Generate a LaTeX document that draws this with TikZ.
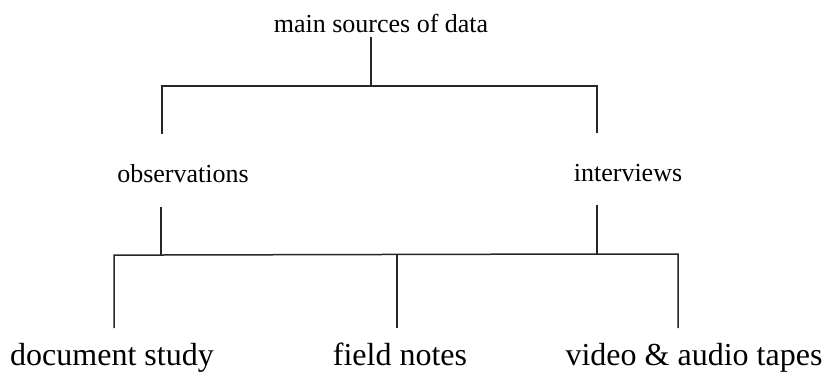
\documentclass[tikz,border=0pt]{standalone}
\usepackage{fontspec}
\setmainfont{Liberation Serif}
\usepackage{tikz}

\begin{document}
\begin{tikzpicture}[x=1pt,y=-1pt]

        \useasboundingbox (0,0) rectangle (825,373);

        \begin{scope}[every node/.style={inner sep=0pt, anchor=base, font=\fontsize{26}{30}\selectfont}]
          \node (main) at (381,32)  {main sources of data};
          \node (obs)  at (183,182) {observations};
          \node (intv) at (628,181) {interviews};
        \end{scope}

        \begin{scope}[every node/.style={inner sep=0pt, anchor=base, font=\fontsize{32}{36}\selectfont}]
          \node (docs)  at (112,365) {document study};
          \node (notes) at (400,365) {field notes};
          \node (tapes) at (694,365) {video \& audio tapes};
        \end{scope}

        % joints of the two brackets
        \coordinate (t0) at (371,37);
        \coordinate (t)  at (371,86);
        \coordinate (tl) at (162,134);
        \coordinate (tr) at (597,133);
        \coordinate (o)  at (161,207);
        \coordinate (i)  at (597,205);
        \coordinate (bo) at (161,255);
        \coordinate (bi) at (597,254);
        \coordinate (bl) at (114,328);
        \coordinate (bm) at (397,328);
        \coordinate (br) at (678,328);

        \begin{scope}[every path/.style={draw, line width=1.5pt, black!85}]
          \path (t0) -- (t);
          \path (tl) |- (t) -| (tr);
          \path (o) -- (bo);
          \path (i) -- (bi);
          \path (bl) |- (bo) -- (bi) -| (br);
          \path (bm) -- (bm |- bo);
        \end{scope}

      \end{tikzpicture}
\end{document}
